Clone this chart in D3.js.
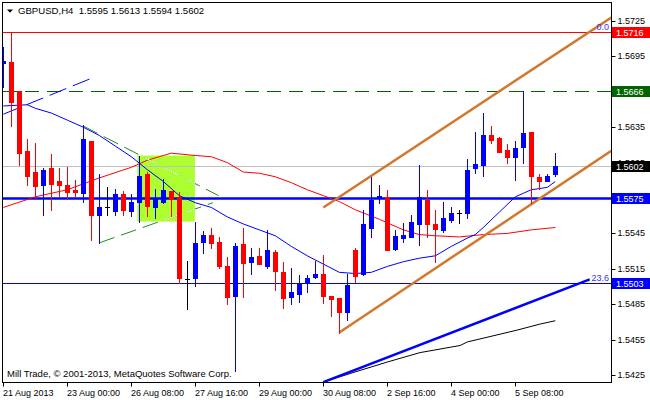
<!DOCTYPE html>
<html><head><meta charset="utf-8">
<script src="https://cdn.jsdelivr.net/npm/d3@7/dist/d3.min.js"></script>
<style>
body{margin:0;background:#fff}
svg{display:block}
text{font-family:"Liberation Sans",Arial,sans-serif;font-size:9px}
</style>
</head><body>
<svg id="chart" width="650" height="400"></svg>
<script>
// ---- data (GBPUSD H4, one entry per bar) ----
const openP  = [1.5689,1.5690,1.5666,1.5615,1.5597,1.5586,1.5600,1.5589,1.5586,1.5582,
                1.5579,1.5623,1.5561,1.5567,1.5564,1.5578,1.5564,1.5572,1.5595,1.5567,
                1.5572,1.5581,1.5576,1.5506,1.5507,1.5538,1.5544,1.5538,1.5517,1.5492,
                1.5536,1.5521,1.5526,1.5517,1.5529,1.5512,1.5491,1.5494,1.5503,1.5508,
                1.5511,1.5492,1.5490,1.5478,1.5531,1.5511,1.5550,1.5575,1.5576,1.5532,
                1.5541,1.5542,1.5553,1.5573,1.5553,1.5548,1.5556,1.5562,1.5562,1.5600,
                1.5603,1.5628,1.5626,1.5616,1.5610,1.5618,1.5631,1.5593,1.5589,1.5595];
const highP  = [1.5703,1.5716,1.5666,1.5625,1.5622,1.5600,1.5612,1.5600,1.5601,1.5590,
                1.5637,1.5623,1.5595,1.5584,1.5583,1.5581,1.5578,1.5611,1.5597,1.5583,
                1.5591,1.5581,1.5580,1.5522,1.5555,1.5547,1.5550,1.5542,1.5525,1.5537,
                1.5550,1.5533,1.5533,1.5548,1.5531,1.5521,1.5516,1.5510,1.5510,1.5522,
                1.5527,1.5492,1.5490,1.5511,1.5533,1.5565,1.5593,1.5586,1.5582,1.5548,
                1.5554,1.5561,1.5603,1.5582,1.5565,1.5572,1.5567,1.5565,1.5608,1.5631,
                1.5647,1.5636,1.5627,1.5621,1.5623,1.5666,1.5631,1.5595,1.5595,1.5613];
const lowP   = [1.5669,1.5636,1.5603,1.5586,1.5575,1.5561,1.5565,1.5577,1.5575,1.5576,
                1.5572,1.5539,1.5537,1.5561,1.5561,1.5561,1.5560,1.5555,1.5560,1.5558,
                1.5571,1.5560,1.5503,1.5481,1.5500,1.5528,1.5533,1.5516,1.5485,1.5428,
                1.5491,1.5511,1.5519,1.5516,1.5497,1.5482,1.5485,1.5487,1.5495,1.5507,
                1.5486,1.5475,1.5461,1.5472,1.5504,1.5510,1.5542,1.5571,1.5531,1.5531,
                1.5538,1.5542,1.5535,1.5542,1.5521,1.5546,1.5555,1.5554,1.5558,1.5596,
                1.5594,1.5622,1.5614,1.5605,1.5590,1.5605,1.5571,1.5583,1.5589,1.5594];
const closeP = [1.5691,1.5656,1.5613,1.5594,1.5585,1.5599,1.5587,1.5586,1.5580,1.5580,
                1.5625,1.5561,1.5567,1.5567,1.5578,1.5565,1.5572,1.5594,1.5568,1.5575,
                1.5582,1.5574,1.5507,1.5506,1.5537,1.5544,1.5537,1.5517,1.5491,1.5534,
                1.5520,1.5525,1.5519,1.5531,1.5513,1.5490,1.5495,1.5502,1.5507,1.5511,
                1.5492,1.5489,1.5478,1.5501,1.5509,1.5553,1.5573,1.5577,1.5531,1.5543,
                1.5544,1.5555,1.5576,1.5553,1.5549,1.5558,1.5562,1.5562,1.5599,1.5604,
                1.5628,1.5624,1.5614,1.5610,1.5617,1.5630,1.5594,1.5589,1.5594,1.5602];

const timeTickBars   = [0,8,16,24,32,40,48,56,64];
const timeTickLabels = ["21 Aug 2013","23 Aug 00:00","26 Aug 08:00","27 Aug 16:00",
                        "29 Aug 00:00","30 Aug 08:00","2 Sep 16:00","4 Sep 00:00","5 Sep 08:00"];
const priceTicks = [1.5425,1.5455,1.5485,1.5515,1.5545,1.5575,1.5605,1.5635,1.5665,1.5695,1.5725];

const maFastBars = [0,3,4,6,8,10,12,14,16,18,20,22,24,26,28,30,32,34,36,38,40,42,44,46,48,50,52,54,56,58,59,60,62,64,65,66,68,69];
const maFastVals = [1.5653,1.5654,1.5651,1.5647,1.5641,1.5635,1.5628,1.5619,1.5610,1.5599,1.5589,1.5577,1.5571,1.5567,1.5559,1.5553,1.5548,1.5543,1.5534,1.5526,1.5519,1.5512,1.5511,1.5512,1.5517,1.5521,1.5524,1.5526,1.5534,1.5541,1.5544,1.5550,1.5563,1.5576,1.5579,1.5582,1.5584,1.5589];
const maSlowBars = [0,4,8,12,16,18,20,21,24,26,28,30,32,34,36,38,40,42,44,47,50,52,54,57,60,63,66,69];
const maSlowVals = [1.5567,1.5576,1.5582,1.5592,1.5601,1.5607,1.5611,1.5613,1.5611,1.5610,1.5605,1.5597,1.5596,1.5593,1.5588,1.5582,1.5577,1.5572,1.5565,1.5557,1.5548,1.5544,1.5543,1.5542,1.5544,1.5545,1.5548,1.5550];
const blackLineBars = [40,43.7,48,52.1,57.1,58,64.2,67,69];
const blackLineVals = [1.5419,1.5427,1.5436,1.5444,1.5450,1.5453,1.5463,1.5468,1.5471];

const levelFib0   = 1.5716;
const levelResist = 1.5666;
const levelLast   = 1.5602;
const levelPivot  = 1.5575;
const levelFib236 = 1.5503;

const channelUpperBars = [40,76], channelUpperVals = [1.5567,1.5728];
const channelLowerBars = [42,76], channelLowerVals = [1.5461,1.5615];
const blueTrendBars = [40,73.3], blueTrendVals = [1.5419,1.5506];
const dashTrendBars = [0,10.85], dashTrendVals = [1.5646,1.5676];
const triUpperBars = [10,26.9], triUpperVals = [1.5636,1.5577];
const triLowerBars = [12,26.2], triLowerVals = [1.5537,1.5571];
const boxBars = [16.75,23.95], boxVals = [1.5611,1.5555];

const headerText = "GBPUSD,H4  1.5595 1.5613 1.5594 1.5602";
const footerText = "Mill Trade, \u00A9 2001-2013, MetaQuotes Software Corp.";

// ---- drawing ----
const svg = d3.select("#chart");
const x = d3.scaleLinear().domain([0,69]).range([3.3,555.3]);
const y = d3.scaleLinear().domain([1.5425,1.5725]).range([375,21]);
const px = v => Math.floor(x(v));
const py = v => Math.round(y(v));

svg.append("rect").attr("width",650).attr("height",400).attr("fill","#fff");
const defs = svg.append("defs");
defs.append("clipPath").attr("id","plot").append("rect").attr("x",3).attr("y",3).attr("width",608).attr("height",379);
defs.append("clipPath").attr("id","boxclip").append("rect")
  .attr("x",x(boxBars[0])).attr("y",y(boxVals[0]))
  .attr("width",x(boxBars[1])-x(boxBars[0])).attr("height",y(boxVals[1])-y(boxVals[0]));

const g = svg.append("g").attr("clip-path","url(#plot)");

// rectangle object
g.append("rect").attr("x",x(boxBars[0])).attr("y",y(boxVals[0]))
  .attr("width",x(boxBars[1])-x(boxBars[0])).attr("height",y(boxVals[1])-y(boxVals[0]))
  .attr("fill","#ADFF2F");

function hline(v,color,w,dash){
  g.append("line").attr("x1",3).attr("x2",611)
   .attr("y1",py(v)+0.5).attr("y2",py(v)+0.5)
   .attr("stroke",color).attr("stroke-width",w).attr("stroke-dasharray",dash||null);
}
hline(levelLast,"#C0C0C0",1);
hline(levelFib0,"#FF0000",1);
hline(levelResist,"#006400",1,"14,8");
hline(levelFib236,"#0000FF",1);
hline(levelPivot,"#0000FF",2.5);

const line = d3.line().x(d=>x(d[0])).y(d=>y(d[1]));
function path(bars,vals,color,w,dash,parent){
  return (parent||g).append("path").datum(d3.zip(bars,vals)).attr("d",line)
    .attr("fill","none").attr("stroke",color).attr("stroke-width",w)
    .attr("stroke-dasharray",dash||null);
}
// moving averages
path(maSlowBars,maSlowVals,"#FF0000",1);
path(maFastBars,maFastVals,"#0000FF",1);
path(blackLineBars,blackLineVals,"#000000",1);

// trend objects
path(dashTrendBars,dashTrendVals,"#0000FF",1,"18,7");
path(triUpperBars,triUpperVals,"#228B22",1,"16,7");
path(triLowerBars,triLowerVals,"#228B22",1,"16,7");
const inBox = g.append("g").attr("clip-path","url(#boxclip)");
path(triUpperBars,triUpperVals,"#FFFFFF",1,"16,7",inBox);
path(triLowerBars,triLowerVals,"#FFFFFF",1,"16,7",inBox);
path(channelUpperBars,channelUpperVals,"#D2782E",2.5);
path(channelLowerBars,channelLowerVals,"#D2782E",2.5);
path(blueTrendBars,blueTrendVals,"#0000FF",2.5);

// candles
const bars = d3.range(openP.length).map(i=>({i,o:openP[i],h:highP[i],l:lowP[i],c:closeP[i]}));
const colorOf = d => d.c>d.o ? "#0000FF" : (d.c<d.o ? "#FF0000" : "#000000");
const cg = g.append("g");
cg.selectAll("line.wick").data(bars).join("line")
  .attr("x1",d=>px(d.i)+0.5).attr("x2",d=>px(d.i)+0.5)
  .attr("y1",d=>py(d.h)).attr("y2",d=>py(d.l)+1)
  .attr("stroke",colorOf).attr("stroke-width",1);
cg.selectAll("rect.body").data(bars.filter(d=>d.o!==d.c)).join("rect")
  .attr("x",d=>px(d.i)-2).attr("width",5)
  .attr("y",d=>Math.min(py(d.o),py(d.c)))
  .attr("height",d=>Math.max(1,Math.abs(py(d.o)-py(d.c))+1))
  .attr("fill",colorOf);
cg.selectAll("line.doji").data(bars.filter(d=>d.o===d.c)).join("line")
  .attr("x1",d=>px(d.i)-2).attr("x2",d=>px(d.i)+3)
  .attr("y1",d=>py(d.o)+0.5).attr("y2",d=>py(d.o)+0.5)
  .attr("stroke","#000").attr("stroke-width",1);

// fib labels
g.append("text").attr("x",609).attr("y",py(levelFib0)-2).attr("text-anchor","end")
  .attr("fill","#3333FF").text("0.0");
g.append("text").attr("x",609).attr("y",py(levelFib236)-2).attr("text-anchor","end")
  .attr("fill","#3333FF").text("23.6");

// frame
svg.append("rect").attr("x",2.5).attr("y",2.5).attr("width",609).attr("height",380)
  .attr("fill","none").attr("stroke","#000").attr("stroke-width",1);

// price axis (labels fully covered by a price box are not drawn)
const boxes = [[levelFib0,"#FF0000"],[levelResist,"#006400"],[levelLast,"#000000"],[levelPivot,"#0000FF"],[levelFib236,"#0000FF"]];
const covered = t => boxes.some(([v]) => Math.abs(py(v)-py(t)) < 3);
const yAxis = d3.axisRight(y).tickValues(priceTicks).tickSize(4).tickPadding(2)
  .tickFormat(d=>covered(d) ? "" : d.toFixed(4));
const ya = svg.append("g").attr("transform","translate(611.5,0)").call(yAxis);
ya.select(".domain").remove();
ya.selectAll(".tick").attr("transform",d=>`translate(0,${py(d)+0.5})`);
ya.selectAll("text").attr("font-family","Liberation Sans, Arial, sans-serif").attr("font-size",9).attr("fill","#000");

// time axis
const xAxis = d3.axisBottom(x).tickValues(timeTickBars).tickSize(4).tickPadding(3)
  .tickFormat((d,k)=>timeTickLabels[k]);
const xa = svg.append("g").attr("transform","translate(0,382.5)").call(xAxis);
xa.select(".domain").remove();
xa.selectAll(".tick").attr("transform",d=>`translate(${px(d)+0.5},0)`);
xa.selectAll("text").attr("text-anchor","start").attr("x",-0.5)
  .attr("font-family","Liberation Sans, Arial, sans-serif").attr("font-size",9).attr("fill","#000");

// price label boxes
boxes.forEach(([v,c])=>{
  const cy = py(v);
  svg.append("rect").attr("x",612).attr("y",cy-5).attr("width",38).attr("height",11).attr("fill",c);
  svg.append("text").attr("x",616).attr("y",cy+3.5).attr("fill","#fff").text(v.toFixed(4));
});

// header & footer
svg.append("path").attr("d","M7,9.5 L13,9.5 L10,12.8 Z").attr("fill","#000");
svg.append("text").attr("x",18).attr("y",14).attr("fill","#000").style("font-size","9.6px")
  .attr("xml:space","preserve").style("white-space","pre").text(headerText);
svg.append("text").attr("x",7).attr("y",377).attr("fill","#000").style("font-size","9.5px").text(footerText);
</script>
</body></html>
